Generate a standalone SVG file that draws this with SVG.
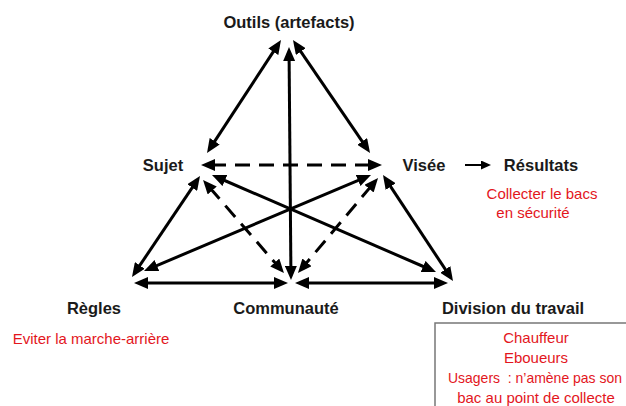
<svg xmlns="http://www.w3.org/2000/svg" width="626" height="406" viewBox="0 0 626 406">
<style>
.lbl{font-family:"Liberation Sans",Arial,sans-serif;font-weight:bold;font-size:16.5px;fill:#1a1a1a;text-anchor:middle}
.red{font-family:"Liberation Sans",Arial,sans-serif;font-size:15px;fill:#e3161d;text-anchor:middle}
.ln{stroke:#000;stroke-width:3;fill:none}
.dash{stroke-dasharray:15 9}
.dbl{marker-start:url(#ah);marker-end:url(#ah)}
</style>
<defs>
<marker id="ah" markerUnits="userSpaceOnUse" markerWidth="14" markerHeight="12" refX="4" refY="6" orient="auto-start-reverse">
<path d="M0,0 L14,6 L0,12 z" fill="#000"/>
</marker>
<marker id="sh" markerUnits="userSpaceOnUse" markerWidth="10" markerHeight="9" refX="3" refY="4.5" orient="auto">
<path d="M0,0 L10,4.5 L0,9 z" fill="#000"/>
</marker>
</defs>
<rect width="626" height="406" fill="#fff"/>
<g id="connectors">
<line class="ln dbl" x1="275.5" y1="48.4" x2="212.5" y2="144.6"/>
<line class="ln dbl" x1="298.6" y1="48.3" x2="364.4" y2="144.7"/>
<line class="ln dbl" x1="289.1" y1="57" x2="290.9" y2="270"/>
<line class="ln dbl" x1="194.4" y1="184.3" x2="137.6" y2="268.7"/>
<line class="ln dbl" x1="361.8" y1="178.9" x2="153.2" y2="267.1"/>
<line class="ln dbl" x1="221.2" y1="179" x2="426.8" y2="268"/>
<line class="ln dbl" x1="388.5" y1="183.3" x2="447.5" y2="272.7"/>
<line class="ln dbl dash" x1="209.6" y1="187.5" x2="277.4" y2="265.5"/>
<line class="ln dbl dash" x1="371.6" y1="185.6" x2="304.4" y2="265.4"/>
<line class="ln dbl dash" x1="211" y1="165" x2="372" y2="165"/>
<line class="ln dbl" x1="144" y1="283" x2="278" y2="283"/>
<line class="ln dbl" x1="305" y1="283" x2="438" y2="283"/>
<line x1="465" y1="165" x2="484" y2="165" stroke="#000" stroke-width="2" marker-end="url(#sh)"/>
</g>
<g id="outils"><text class="lbl" x="289" y="28">Outils (artefacts)</text></g>
<g id="sujet"><text class="lbl" x="163" y="171">Sujet</text></g>
<g id="visee"><text class="lbl" x="424" y="171">Visée</text></g>
<g id="resultats">
<text class="lbl" x="541" y="171">Résultats</text>
<text class="red" x="542" y="198.5">Collecter le bacs</text>
<text class="red" x="533" y="217.5">en sécurité</text>
</g>
<g id="regles">
<text class="lbl" x="94" y="314">Règles</text>
<text class="red" x="91" y="343.5">Eviter la marche-arrière</text>
</g>
<g id="communaute"><text class="lbl" x="286" y="314">Communauté</text></g>
<g id="division">
<text class="lbl" x="513" y="314">Division du travail</text>
<rect x="435" y="323" width="210" height="100" fill="none" stroke="#777" stroke-width="1.5"/>
<text class="red" x="536" y="342.5">Chauffeur</text>
<text class="red" x="536" y="362.5">Eboueurs</text>
<text class="red" x="535" y="382.5" xml:space="preserve" textLength="174" lengthAdjust="spacingAndGlyphs">Usagers  : n’amène pas son</text>
<text class="red" x="536" y="402.5">bac au point de collecte</text>
</g>
</svg>
